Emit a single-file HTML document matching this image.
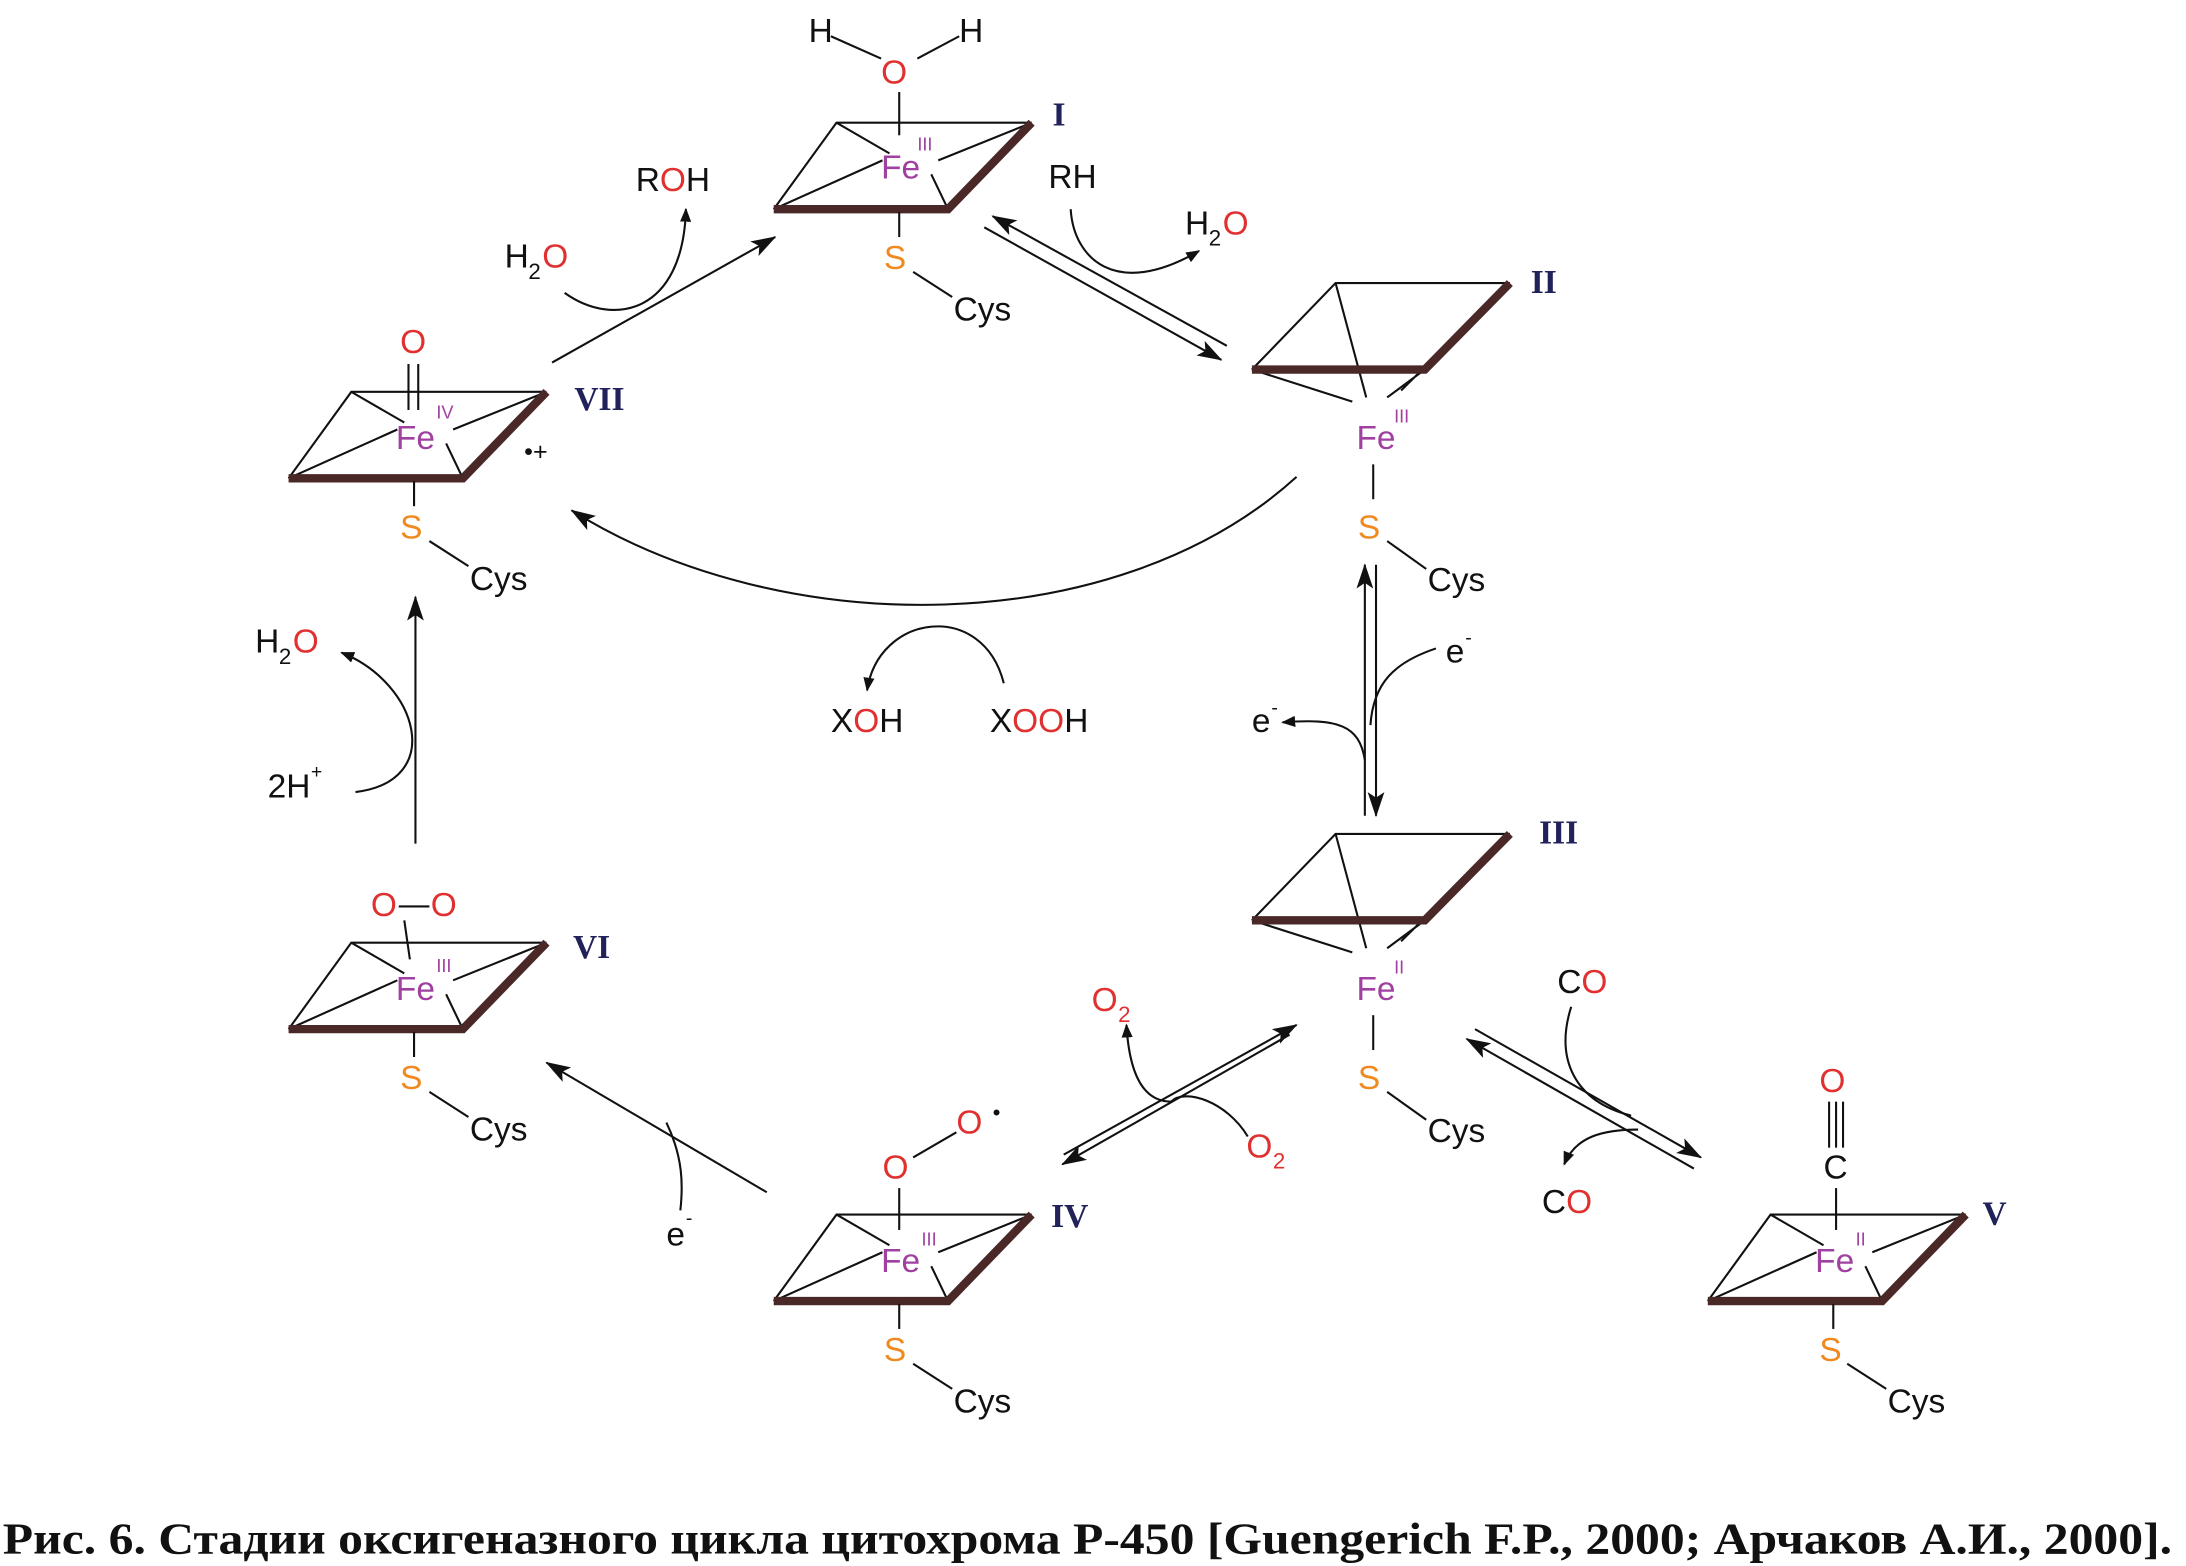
<!DOCTYPE html>
<html><head><meta charset="utf-8"><style>
html,body{margin:0;padding:0;background:#fff;}
svg{display:block;}
text{font-family:"Liberation Sans",sans-serif;}
.k{font-size:24px;fill:#111;}
.o{fill:#e03030;}
.fe{font-size:24px;fill:#a040a0;}
.s{font-size:24px;fill:#f08a20;}
.sup{font-size:13px;fill:#a040a0;}
.rn{font-family:"Liberation Serif",serif;font-weight:bold;font-size:24px;fill:#22225a;}
.th{stroke:#111;stroke-width:1.5;fill:none;}
.tk{stroke:#4a2828;stroke-width:6;fill:none;stroke-linejoin:miter;}
</style></head><body>
<svg width="2186" height="1566" viewBox="0 0 1568 1123" preserveAspectRatio="none">
<defs>
<marker id="a" markerWidth="10" markerHeight="8" refX="9" refY="4" orient="auto" markerUnits="userSpaceOnUse"><path d="M0,0 L10,4 L0,8 z" fill="#111"/></marker>
<marker id="b" markerWidth="18" markerHeight="12" refX="17" refY="6" orient="auto" markerUnits="userSpaceOnUse"><path d="M0,0 L18,6 L0,12 L4,6 z" fill="#111"/></marker>
<g id="flat">
<path class="th" d="M-93,30 L-48,-32 L92,-32"/>
<path class="th" d="M-93,30 L-15,-5 M-48,-32 L-10,-10 M92,-32 L25,-5 M32,30 L20,5"/>
<path class="tk" d="M-93,30 L32,30 L92,-32"/>
</g>
<g id="dome">
<path class="th" d="M-87,-35 L-27,-97 L98,-97"/>
<path class="th" d="M-27,-97 L-5,-15 M-87,-35 L-15,-12 M37,-35 L10,-15 M98,-97 L20,-20"/>
<path class="tk" d="M-87,-35 L37,-35 L98,-97"/>
</g>
</defs>

<!-- I -->
<use href="#flat" x="648" y="120"/>
<text x="632" y="128" class="fe">Fe</text><text x="658" y="108" class="sup">III</text>
<text x="632" y="60" class="k o">O</text>
<line x1="645" y1="66" x2="645" y2="97" class="th"/>
<text x="580" y="30" class="k">H</text><text x="688" y="30" class="k">H</text>
<line x1="596" y1="26" x2="632" y2="42" class="th"/><line x1="658" y1="42" x2="688" y2="26" class="th"/>
<line x1="645" y1="152" x2="645" y2="170" class="th"/>
<text x="634" y="193" class="s">S</text>
<line x1="655" y1="195" x2="683" y2="213" class="th"/>
<text x="684" y="230" class="k">Cys</text>
<text x="755" y="90" class="rn">I</text>

<!-- II -->
<use href="#dome" x="985" y="300"/>
<text x="973" y="322" class="fe">Fe</text><text x="1000" y="303" class="sup">III</text>
<line x1="985" y1="333" x2="985" y2="358" class="th"/>
<text x="974" y="386" class="s">S</text>
<line x1="995" y1="388" x2="1023" y2="408" class="th"/>
<text x="1024" y="424" class="k">Cys</text>
<text x="1098" y="210" class="rn">II</text>

<!-- III -->
<use href="#dome" x="985" y="695"/>
<text x="973" y="717" class="fe">Fe</text><text x="1000" y="698" class="sup">II</text>
<line x1="985" y1="728" x2="985" y2="753" class="th"/>
<text x="974" y="781" class="s">S</text>
<line x1="995" y1="783" x2="1023" y2="803" class="th"/>
<text x="1024" y="819" class="k">Cys</text>
<text x="1104" y="605" class="rn">III</text>

<!-- VII -->
<use href="#flat" x="300" y="313"/>
<text x="284" y="322" class="fe">Fe</text><text x="313" y="300" class="sup">IV</text>
<text x="287" y="253" class="k o">O</text>
<line x1="293" y1="261" x2="293" y2="294" class="th"/><line x1="300" y1="261" x2="300" y2="294" class="th"/>
<line x1="297" y1="345" x2="297" y2="363" class="th"/>
<text x="287" y="386" class="s">S</text>
<line x1="308" y1="388" x2="336" y2="406" class="th"/>
<text x="337" y="423" class="k">Cys</text>
<text x="376" y="330" class="k" style="font-size:18px">•+</text>
<text x="412" y="294" class="rn">VII</text>

<!-- VI -->
<use href="#flat" x="300" y="708"/>
<text x="284" y="717" class="fe">Fe</text><text x="313" y="697" class="sup">III</text>
<text x="266" y="657" class="k o">O</text><text x="309" y="657" class="k o">O</text>
<line x1="286" y1="650" x2="308" y2="650" class="th"/>
<line x1="290" y1="660" x2="294" y2="688" class="th"/>
<line x1="297" y1="740" x2="297" y2="758" class="th"/>
<text x="287" y="781" class="s">S</text>
<line x1="308" y1="783" x2="336" y2="801" class="th"/>
<text x="337" y="818" class="k">Cys</text>
<text x="411" y="687" class="rn">VI</text>

<!-- IV -->
<use href="#flat" x="648" y="903"/>
<text x="632" y="912" class="fe">Fe</text><text x="661" y="893" class="sup">III</text>
<text x="633" y="845" class="k o">O</text>
<line x1="645" y1="852" x2="645" y2="882" class="th"/>
<line x1="655" y1="830" x2="686" y2="812" class="th"/>
<text x="686" y="813" class="k o">O</text><text x="712" y="803" class="k" style="font-size:16px">•</text>
<line x1="645" y1="935" x2="645" y2="953" class="th"/>
<text x="634" y="976" class="s">S</text>
<line x1="655" y1="978" x2="683" y2="996" class="th"/>
<text x="684" y="1013" class="k">Cys</text>
<text x="754" y="880" class="rn">IV</text>

<!-- V -->
<use href="#flat" x="1318" y="903"/>
<text x="1302" y="912" class="fe">Fe</text><text x="1331" y="893" class="sup">II</text>
<text x="1305" y="783" class="k o">O</text>
<line x1="1312" y1="790" x2="1312" y2="823" class="th"/><line x1="1317" y1="790" x2="1317" y2="823" class="th"/><line x1="1322" y1="790" x2="1322" y2="823" class="th"/>
<text x="1308" y="845" class="k">C</text>
<line x1="1317" y1="852" x2="1317" y2="882" class="th"/>
<line x1="1315" y1="935" x2="1315" y2="953" class="th"/>
<text x="1305" y="976" class="s">S</text>
<line x1="1325" y1="978" x2="1353" y2="996" class="th"/>
<text x="1354" y="1013" class="k">Cys</text>
<text x="1422" y="878" class="rn">V</text>

<!-- I <-> II -->
<line x1="706" y1="163" x2="876" y2="258" class="th" marker-end="url(#b)"/>
<line x1="880" y1="248" x2="712" y2="155" class="th" marker-end="url(#b)"/>
<text x="752" y="135" class="k">RH</text>
<path d="M768,150 C770,185 800,215 860,180" class="th" marker-end="url(#a)"/>
<text x="850" y="168" class="k">H</text><text x="867" y="176" class="k" style="font-size:16px">2</text><text x="877" y="168" class="k o">O</text>

<!-- VII -> I -->
<line x1="396" y1="260" x2="556" y2="170" class="th" marker-end="url(#b)"/>
<text x="362" y="192" class="k">H</text><text x="379" y="200" class="k" style="font-size:16px">2</text><text x="389" y="192" class="k o">O</text>
<path d="M405,210 C440,235 490,225 492,150" class="th" marker-end="url(#a)"/>
<text x="456" y="137" class="k">R<tspan class="o">O</tspan>H</text>

<!-- II -> VII curve -->
<path d="M930,342 C800,460 560,460 410,366" class="th" marker-end="url(#b)"/>
<path d="M720,490 C705,430 630,440 622,495" class="th" marker-end="url(#a)"/>
<text x="596" y="525" class="k">X<tspan class="o">O</tspan>H</text>
<text x="710" y="525" class="k">X<tspan class="o">OO</tspan>H</text>

<!-- II <-> III -->
<line x1="979" y1="585" x2="979" y2="405" class="th" marker-end="url(#b)"/>
<line x1="987" y1="405" x2="987" y2="585" class="th" marker-end="url(#b)"/>
<text x="1037" y="475" class="k">e</text><text x="1051" y="462" class="k" style="font-size:14px">-</text>
<path d="M1030,465 C1000,475 985,490 983,520" class="th"/>
<path d="M979,545 C975,520 960,515 920,518" class="th" marker-end="url(#a)"/>
<text x="898" y="525" class="k">e</text><text x="912" y="512" class="k" style="font-size:14px">-</text>

<!-- III <-> V -->
<line x1="1058" y1="738" x2="1220" y2="830" class="th" marker-end="url(#b)"/>
<line x1="1215" y1="838" x2="1052" y2="745" class="th" marker-end="url(#b)"/>
<text x="1117" y="712" class="k">C<tspan class="o">O</tspan></text>
<path d="M1127,722 C1115,760 1130,790 1170,800" class="th"/>
<path d="M1175,810 C1150,810 1130,815 1122,835" class="th" marker-end="url(#a)"/>
<text x="1106" y="870" class="k">C<tspan class="o">O</tspan></text>

<!-- III <-> IV -->
<line x1="763" y1="828" x2="930" y2="735" class="th" marker-end="url(#b)"/>
<line x1="925" y1="742" x2="762" y2="835" class="th" marker-end="url(#b)"/>
<text x="783" y="725" class="k o">O</text><text x="802" y="733" class="k o" style="font-size:16px">2</text>
<path d="M895,815 C880,790 850,780 840,790" class="th"/>
<path d="M840,790 C820,790 810,770 808,735" class="th" marker-end="url(#a)"/>
<text x="894" y="830" class="k o">O</text><text x="913" y="838" class="k o" style="font-size:16px">2</text>

<!-- IV -> VI -->
<line x1="550" y1="855" x2="392" y2="762" class="th" marker-end="url(#b)"/>
<path d="M478,805 C490,830 490,850 488,868" class="th"/>
<text x="478" y="893" class="k">e</text><text x="492" y="878" class="k" style="font-size:14px">-</text>

<!-- VI -> VII -->
<line x1="298" y1="605" x2="298" y2="428" class="th" marker-end="url(#b)"/>
<text x="183" y="468" class="k">H</text><text x="200" y="476" class="k" style="font-size:16px">2</text><text x="210" y="468" class="k o">O</text>
<path d="M255,568 C320,560 300,490 245,468" class="th" marker-end="url(#a)"/>
<text x="192" y="572" class="k">2H</text><text x="223" y="558" class="k" style="font-size:14px">+</text>

<text x="2" y="1114" textLength="1556" lengthAdjust="spacingAndGlyphs" style="font-family:'Liberation Serif',serif;font-weight:bold;font-size:32px;fill:#111">Рис. 6. Стадии оксигеназного цикла цитохрома Р-450 [Guengerich F.P., 2000; Арчаков А.И., 2000].</text>
</svg>
</body></html>
